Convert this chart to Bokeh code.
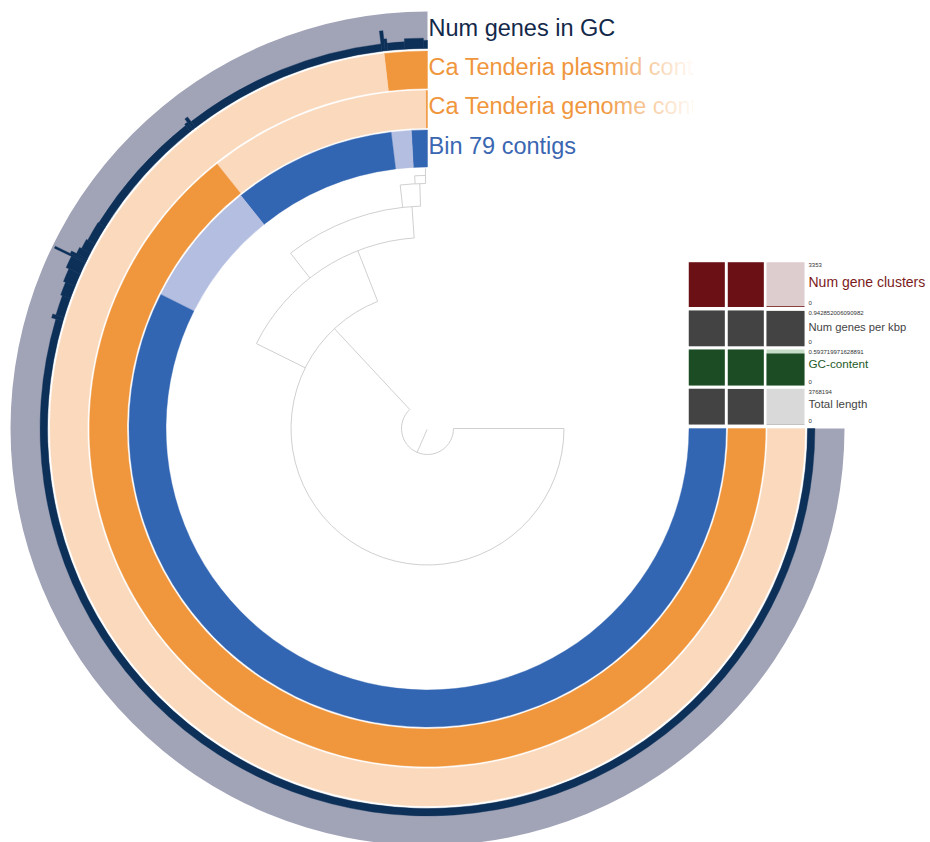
import numpy as np
from bokeh.plotting import figure
from bokeh.models import Range1d
from bokeh.embed import file_html
from bokeh.resources import INLINE
from bokeh.core.properties import value

# ---------------- data ----------------
ring_labels = ["Num genes in GC", "Ca Tenderia plasmid contigs",
               "Ca Tenderia genome contigs", "Bin 79 contigs"]

# presence / absence of gene clusters along the 270-degree item axis
# (degrees from 12 o'clock, counter-clockwise)
bin79_edges = [0.0, 3.1, 7.0, 38.7, 63.3, 270.0]
bin79_present = [1, 0, 1, 0, 1]
genome_edges = [0.0, 0.3, 38.5, 270.0]
genome_present = [1, 0, 1]
plasmid_edges = [0.0, 6.6, 270.0]
plasmid_present = [1, 0]

# Num genes in GC (step profile along the item axis)
ngenes_edges = [0, 0.6, 3.4, 6.0, 6.4, 6.9, 37.6, 38.1, 38.6, 58.0, 61.0, 62.5,
                63.5, 63.9, 64.2, 66.0, 68.0, 70.0, 73.0, 73.6, 270]
ngenes_values = [2.2, 2.8, 2.0, 3.2, 5.5, 2.0, 3.6, 2.5, 2.1, 2.3, 2.7, 3.3,
                 4.8, 9.3, 4.2, 3.4, 2.8, 2.3, 3.2, 2.0]
ngenes_max = 10.0

# dendrogram: arcs (radius, from, to) and radial branches (angle, r0, r1)
tree_arc_r = [26, 136.5, 191, 222.5, 245, 253]
tree_arc_a0 = [43, 21.4, 4.0, 1.8, 0.45, 0.45]
tree_arc_a1 = [270, 270, 63.6, 38.0, 6.4, 2.9]
tree_rad_a = [156.5, 43, 270, 21.4, 63.6, 4.0, 38.0, 6.4, 1.8, 2.9, 0.45]
tree_rad_r0 = [1, 26, 26, 136.5, 136.5, 191, 191, 222.5, 222.5, 245, 245]
tree_rad_r1 = [26, 136.5, 136.5, 191, 191, 222.5, 222.5, 245, 245, 253, 260]

# per-genome summary (Bin 79, Ca Tenderia genome, Ca Tenderia plasmid)
legend_rows = ["Num gene clusters", "Num genes per kbp", "GC-content", "Total length"]
legend_max_labels = ["3353", "0.942852006090982", "0.593719971628891", "3768194"]
num_gene_clusters = [3353, 3340, 55]
num_genes_per_kbp = [0.9428, 0.9400, 0.9300]
gc_content = [0.5937, 0.5920, 0.5280]
total_length = [3768194, 3750000, 30000]
legend_values = [num_gene_clusters, num_genes_per_kbp, gc_content, total_length]
legend_max = [3353, 0.942852006090982, 0.593719971628891, 3768194]

# ---------------- layout helpers ----------------
W, H = 930, 842
CX, CY = 427, 428          # page pixel of circle centre
OX, OY = 0, 0              # page offset of the figure


def X(px):
    return px - CX


def Y(py):
    return CY - py


def ang(theta_list):
    # degrees from 12 o'clock (ccw) -> radians from +x axis (ccw)
    return list(np.radians(90.0 + np.asarray(theta_list, dtype=float)))


p = figure(width=W, height=H, output_backend="svg", toolbar_location=None,
           x_axis_type=None, y_axis_type=None, min_border=0,
           x_range=Range1d(OX - CX, OX - CX + W), y_range=Range1d(CY - OY - H, CY - OY))
p.grid.visible = False
p.outline_line_color = None
p.background_fill_color = "white"

R_BIN = (261.5, 298.5)
R_GEN = (300.5, 338.0)
R_PLA = (340.0, 377.5)
R_BAR = (380.0, 417.0)

BLUE, LBLUE = "#3366b2", "#b4bee1"
ORANGE, PEACH = "#f0963c", "#fad9bd"
NAVY, GREY = "#0c3058", "#a1a3b7"


def ring(edges, present, r0, r1, on, off):
    n = len(present)
    cols = [on if v else off for v in present]
    p.annular_wedge(x=[0] * n, y=[0] * n, inner_radius=r0, outer_radius=r1,
                    start_angle=ang(edges[:-1]), end_angle=ang(edges[1:]),
                    direction="anticlock", fill_color=cols, line_color=cols,
                    line_width=0.4)


ring(bin79_edges, bin79_present, *R_BIN, BLUE, LBLUE)
ring(genome_edges, genome_present, *R_GEN, ORANGE, PEACH)
ring(plasmid_edges, plasmid_present, *R_PLA, ORANGE, PEACH)

# bar layer background
p.annular_wedge(x=[0], y=[0], inner_radius=R_BAR[0], outer_radius=R_BAR[1],
                start_angle=ang([0]), end_angle=ang([270]),
                direction="anticlock", fill_color=GREY, line_color=None)
n = len(ngenes_values)
outer = [R_BAR[0] + v / ngenes_max * (R_BAR[1] - R_BAR[0]) for v in ngenes_values]
p.annular_wedge(x=[0] * n, y=[0] * n, inner_radius=[R_BAR[0]] * n, outer_radius=outer,
                start_angle=ang(ngenes_edges[:-1]), end_angle=ang(ngenes_edges[1:]),
                direction="anticlock", fill_color=NAVY, line_color=NAVY, line_width=0.4)

# dendrogram
TREE = "#d0d0d0"
m = len(tree_arc_r)
p.arc(x=[0] * m, y=[0] * m, radius=tree_arc_r,
      start_angle=ang(tree_arc_a0), end_angle=ang(tree_arc_a1),
      direction="anticlock", line_color=TREE, line_width=1)
ta = np.radians(np.array(tree_rad_a))
r0 = np.array(tree_rad_r0, dtype=float)
r1 = np.array(tree_rad_r1, dtype=float)
p.segment(x0=-r0 * np.sin(ta), y0=r0 * np.cos(ta), x1=-r1 * np.sin(ta), y1=r1 * np.cos(ta),
          line_color=TREE, line_width=1)

# ring labels
FONT = value("Liberation Sans")
p.text(x=[X(428)] * 4, y=[Y(27.5), Y(66.5), Y(105.5), Y(145.5)], text=ring_labels,
       text_color=["#13294a", ORANGE, ORANGE, "#3a66b2"], text_font=FONT,
       text_font_size=value("23.5px"), text_baseline="alphabetic", text_align="left")

# fade-out of the long labels
steps = 24
fx0, fx1 = 604, 692
xs = np.linspace(fx0, fx1, steps + 1)
p.quad(left=[X(v) for v in xs[:-1]], right=[X(v) + 0.3 for v in xs[1:]],
       top=[Y(46)] * steps, bottom=[Y(128)] * steps, fill_color="white",
       fill_alpha=list(np.linspace(0.05, 0.95, steps)), line_color=None)
p.quad(left=[X(fx1)], right=[X(780)], top=[Y(46)], bottom=[Y(128)],
       fill_color="white", line_color=None)

# summary legend (bar cells)
cols_px = [(688.3, 724.3), (727.3, 763.3), (766.0, 804.0)]
rows_px = [(261.7, 306.5), (310.0, 345.7), (349.0, 385.0), (388.3, 424.0)]
fg = ["#6b1015", "#434343", "#1b4c24", "#434343"]
bg = ["#ddcdce", "#d2d2d2", "#c6dcc7", "#d9d9d9"]
label_col = ["#7b1b1b", "#444444", "#1e5a28", "#444444"]
label_size = ["14px", "11.2px", "11.7px", "11.5px"]
label_base = [281, 326.5, 363, 403]

for i, (top, bot) in enumerate(rows_px):
    L = [X(c[0]) for c in cols_px]
    R = [X(c[1]) for c in cols_px]
    p.quad(left=L, right=R, top=[Y(top)] * 3, bottom=[Y(bot)] * 3,
           fill_color=bg[i], line_color=None)
    hts = [Y(bot) + v / legend_max[i] * (bot - top) for v in legend_values[i]]
    p.quad(left=L, right=R, top=hts, bottom=[Y(bot)] * 3,
           fill_color=fg[i], line_color=None)
    p.text(x=[X(808)], y=[Y(label_base[i])], text=[legend_rows[i]],
           text_color=label_col[i], text_font=FONT,
           text_font_size=value(label_size[i]), text_baseline="alphabetic")
    p.text(x=[X(808), X(808)], y=[Y(top + 2.8), Y(bot - 4.0)],
           text=[legend_max_labels[i], "0"], text_color="#333333", text_font=FONT,
           text_font_size=value("6px"), text_baseline="middle")

open("out.html", "w").write(file_html(p, INLINE))
